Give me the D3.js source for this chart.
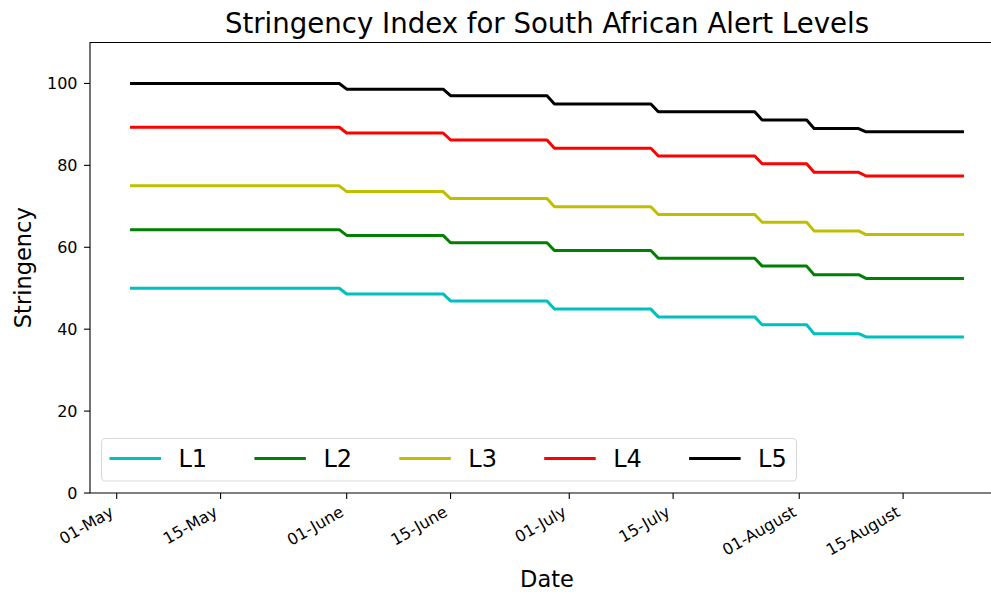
<!DOCTYPE html>
<html>
<head>
<meta charset="utf-8">
<script src="https://cdn.jsdelivr.net/npm/d3@7"></script>
<style>
  html, body { margin: 0; padding: 0; background: #fff; }
  svg { display: block; font-family: "DejaVu Sans", sans-serif; }
</style>
</head>
<body>
<svg id="chart" width="991" height="592"></svg>
<script>
// ---- data ----
const periodStarts = ["2020-05-03", "2020-06-01", "2020-06-15", "2020-06-29", "2020-07-13", "2020-07-27", "2020-08-03", "2020-08-10"];
const lastDate = "2020-08-23";
const seriesNames = ["L1", "L2", "L3", "L4", "L5"];
const L1 = [50.0, 48.6, 46.9, 44.9, 43.0, 41.1, 38.9, 38.1];
const L2 = [64.3, 62.9, 61.1, 59.2, 57.3, 55.4, 53.3, 52.4];
const L3 = [75.0, 73.6, 71.9, 69.9, 68.0, 66.1, 64.0, 63.1];
const L4 = [89.3, 87.9, 86.2, 84.2, 82.3, 80.4, 78.3, 77.4];
const L5 = [100.0, 98.6, 97.0, 95.0, 93.1, 91.1, 89.0, 88.2];
const seriesColors = ["#00bfbf", "#008000", "#bfbf00", "#ff0000", "#000000"];
const xTickDates = ["2020-05-01", "2020-05-15", "2020-06-01", "2020-06-15", "2020-07-01", "2020-07-15", "2020-08-01", "2020-08-15"];
const yTicks = [0, 20, 40, 60, 80, 100];
const title = "Stringency Index for South African Alert Levels";
const xLabel = "Date";
const yLabel = "Stringency";

// ---- layout ----
const svg = d3.select("#chart");
const L = 90, R = 1004, T = 42.5, B = 493;
const parse = d3.utcParse("%Y-%m-%d");
const starts = periodStarts.map(parse);
const end = parse(lastDate);
const DAY = 864e5;
const span = end - starts[0];
const x = d3.scaleUtc()
  .domain([new Date(+starts[0] - span * 0.05), new Date(+end + span * 0.05)])
  .range([L, R]);
const y = d3.scaleLinear().domain([0, 110]).range([B, T]);

const allSeries = [L1, L2, L3, L4, L5];
function vertices(vals) {
  const pts = [];
  for (let i = 0; i < starts.length; i++) {
    const s = starts[i];
    const e = i + 1 < starts.length ? new Date(+starts[i + 1] - DAY) : end;
    pts.push([s, vals[i]]);
    pts.push([e, vals[i]]);
  }
  return pts;
}

const clipId = "plotclip";
svg.append("clipPath").attr("id", clipId)
  .append("rect").attr("x", L).attr("y", T).attr("width", R - L).attr("height", B - T);

const line = d3.line().x(d => x(d[0])).y(d => y(d[1]));
const g = svg.append("g").attr("clip-path", `url(#${clipId})`);
allSeries.forEach((vals, i) => {
  g.append("path")
    .attr("d", line(vertices(vals)))
    .attr("fill", "none")
    .attr("stroke", seriesColors[i])
    .attr("stroke-width", 3)
    .attr("stroke-linecap", "square")
    .attr("stroke-linejoin", "round");
});

// spines
svg.append("path")
  .attr("d", `M${L},${B}V${T}H${R}V${B}Z`)
  .attr("fill", "none").attr("stroke", "#000").attr("stroke-width", 1.1);

// y axis
const yAxis = svg.append("g");
yTicks.forEach(v => {
  yAxis.append("line").attr("x1", L - 6).attr("x2", L).attr("y1", y(v)).attr("y2", y(v))
    .attr("stroke", "#000").attr("stroke-width", 1.1);
  yAxis.append("text").attr("x", L - 12.5).attr("y", y(v)).attr("dy", "0.36em")
    .attr("text-anchor", "end").attr("font-size", 16).attr("fill", "#000").text(v);
});

// x axis
const fmt = d3.utcFormat("%d-%B");
const xAxis = svg.append("g");
xTickDates.map(parse).forEach(d => {
  const tx = x(d);
  xAxis.append("line").attr("x1", tx).attr("x2", tx).attr("y1", B).attr("y2", B + 6)
    .attr("stroke", "#000").attr("stroke-width", 1.1);
  const fs = 16, asc = 0.76 * fs, desc = 0.24 * fs;
  const top = B + 6 + 5.5;
  xAxis.append("text")
    .attr("transform", `translate(${tx - 0.5 * desc},${top + 0.866 * asc}) rotate(-30)`)
    .attr("text-anchor", "end").attr("font-size", fs).attr("fill", "#000")
    .text(fmt(d));
});

// title and labels
svg.append("text").attr("x", (L + R) / 2).attr("y", 33).attr("text-anchor", "middle")
  .attr("font-size", 27.6).attr("fill", "#000").text(title);
svg.append("text").attr("x", (L + R) / 2).attr("y", 587).attr("text-anchor", "middle")
  .attr("font-size", 22.5).attr("fill", "#000").text(xLabel);
svg.append("text").attr("transform", `translate(31,${(T + B) / 2}) rotate(-90)`)
  .attr("text-anchor", "middle").attr("font-size", 22.5).attr("fill", "#000").text(yLabel);

// legend
const lg = svg.append("g");
lg.append("rect").attr("x", 101.5).attr("y", 438.5).attr("width", 695).attr("height", 42.5)
  .attr("rx", 4).attr("ry", 4)
  .attr("fill", "#fff").attr("fill-opacity", 0.8)
  .attr("stroke", "#d9d9d9").attr("stroke-width", 1.1);
seriesNames.forEach((name, i) => {
  const x0 = 109.5 + i * 144.9;
  lg.append("line").attr("x1", x0).attr("x2", x0 + 51.5).attr("y1", 458.5).attr("y2", 458.5)
    .attr("stroke", seriesColors[i]).attr("stroke-width", 3);
  lg.append("text").attr("x", x0 + 69).attr("y", 458.5).attr("dy", "0.36em")
    .attr("font-size", 24).attr("fill", "#000").text(name);
});
</script>
</body>
</html>
